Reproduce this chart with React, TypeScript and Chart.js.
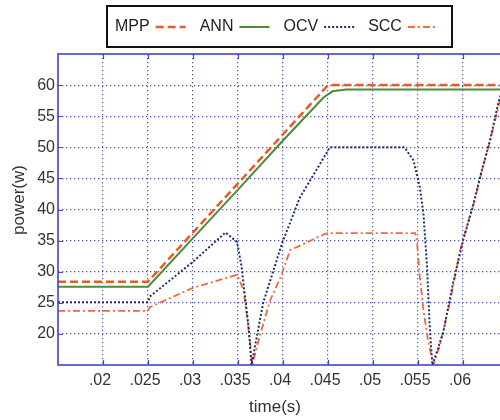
import React, { useEffect, useRef } from 'react';
import { Chart, registerables } from 'chart.js';

Chart.register(...registerables);

// ---- data (time in s, power in W) ----
const timeMPP = [0.015, 0.025, 0.045, 0.065];
const powerMPP = [28.4, 28.4, 60, 60];

const timeANN = [0.015, 0.025, 0.03, 0.035, 0.04, 0.0445, 0.0455, 0.047, 0.065];
const powerANN = [27.6, 27.6, 35.4, 43.2, 51.1, 58.0, 59.0, 59.3, 59.3];

const timeOCV = [
  0.015, 0.025, 0.0252, 0.03, 0.0336, 0.0349, 0.0354, 0.0362, 0.0365, 0.0378,
  0.0399, 0.0419, 0.0439, 0.0452, 0.0535, 0.0545, 0.0552, 0.0556, 0.056, 0.0563,
  0.0566, 0.0578, 0.0589, 0.06, 0.0611, 0.0619, 0.063, 0.0639, 0.0645, 0.065,
];
const powerOCV = [
  25.1, 25.1, 26.0, 31.6, 36.3, 34.8, 30.8, 20.7, 15, 25,
  34.6, 42, 46.8, 50, 50, 47.9, 43.6, 39.4, 31, 21.2,
  15, 20.2, 28.2, 35, 40.5, 45.2, 51.1, 57, 60, 60,
];

const timeSCC = [
  0.015, 0.025, 0.0252, 0.03, 0.0349, 0.0356, 0.0361, 0.0366, 0.0374, 0.0386,
  0.0397, 0.0408, 0.0421, 0.0439, 0.0449, 0.0547, 0.0549, 0.0552, 0.0556, 0.0561,
  0.0567, 0.0574, 0.0586, 0.0597, 0.0604, 0.0613, 0.0621, 0.063, 0.0641, 0.0645, 0.065,
];
const powerSCC = [
  23.7, 23.7, 24.3, 27.4, 29.5, 27.1, 21.8, 15, 19.6, 25.5,
  29, 33.5, 34.3, 35.6, 36.2, 36.2, 34.6, 29.2, 23.9, 19.1,
  15, 18, 25.5, 33.5, 37.2, 41.5, 46.3, 51, 57.5, 60, 60,
];

const xTicks = [0.02, 0.025, 0.03, 0.035, 0.04, 0.045, 0.05, 0.055, 0.06];
const xTickLabels = ['.02', '.025', '.03', '.035', '.04', '.045', '.05', '.055', '.06'];
const yTicks = [20, 25, 30, 35, 40, 45, 50, 55, 60];

const seriesNames = ['MPP', 'ANN', 'OCV', 'SCC'];

const FONT = '"Liberation Sans", Arial, sans-serif';
const FRAME = '#4444cc';
const GRID = '#4a58b0';

const pairs = (xs: number[], ys: number[]) => xs.map((x, i) => ({ x, y: ys[i] }));

const framePlugin = {
  id: 'framePlugin',
  afterDraw(chart: any) {
    const { ctx, chartArea: a, scales } = chart;
    ctx.save();
    // inward tick marks
    ctx.strokeStyle = FRAME;
    ctx.lineWidth = 1.2;
    ctx.setLineDash([]);
    ctx.beginPath();
    xTicks.forEach((v) => {
      const px = Math.round(scales.x.getPixelForValue(v)) + 0.5;
      ctx.moveTo(px, a.bottom);
      ctx.lineTo(px, a.bottom - 5);
      ctx.moveTo(px, a.top);
      ctx.lineTo(px, a.top + 5);
    });
    yTicks.forEach((v) => {
      const py = Math.round(scales.y.getPixelForValue(v)) + 0.5;
      ctx.moveTo(a.left, py);
      ctx.lineTo(a.left + 5, py);
      ctx.moveTo(a.right, py);
      ctx.lineTo(a.right - 5, py);
    });
    ctx.stroke();
    // frame
    ctx.lineWidth = 1.6;
    ctx.strokeRect(a.left, a.top, a.right - a.left, a.bottom - a.top);

    // axis titles
    ctx.fillStyle = '#333';
    ctx.font = `17px ${FONT}`;
    ctx.textAlign = 'center';
    ctx.textBaseline = 'middle';
    ctx.fillText('time(s)', 275, 407);
    ctx.save();
    ctx.translate(19, 200);
    ctx.rotate(-Math.PI / 2);
    ctx.fillText('power(w)', 0, 0);
    ctx.restore();

    // legend box
    ctx.strokeStyle = '#111';
    ctx.lineWidth = 2;
    ctx.strokeRect(107, 6, 345, 41);
    ctx.font = `16px ${FONT}`;
    ctx.textAlign = 'left';
    ctx.fillStyle = '#222';
    let x = 115;
    const y = 27;
    chart.data.datasets.forEach((ds: any) => {
      ctx.fillText(ds.label, x, y);
      x += ctx.measureText(ds.label).width + 6;
      ctx.beginPath();
      ctx.strokeStyle = ds.borderColor;
      ctx.lineWidth = ds.borderWidth;
      ctx.setLineDash(ds.borderDash || []);
      ctx.moveTo(x, y);
      ctx.lineTo(x + 30, y);
      ctx.stroke();
      ctx.setLineDash([]);
      x += 30 + 14;
    });
    ctx.restore();
  },
};

export default function App() {
  const ref = useRef<HTMLCanvasElement>(null);
  useEffect(() => {
    const chart = new Chart(ref.current as HTMLCanvasElement, {
      type: 'line',
      data: {
        datasets: [
          {
            label: seriesNames[0],
            data: pairs(timeMPP, powerMPP),
            borderColor: '#ec5a24',
            borderWidth: 2.5,
            borderDash: [8, 4],
            pointRadius: 0,
            tension: 0,
          },
          {
            label: seriesNames[1],
            data: pairs(timeANN, powerANN),
            borderColor: '#4b8b3b',
            borderWidth: 2,
            pointRadius: 0,
            tension: 0,
          },
          {
            label: seriesNames[2],
            data: pairs(timeOCV, powerOCV),
            borderColor: '#1f2f6e',
            borderWidth: 2,
            borderDash: [2, 2],
            pointRadius: 0,
            tension: 0,
          },
          {
            label: seriesNames[3],
            data: pairs(timeSCC, powerSCC),
            borderColor: '#ee6a3a',
            borderWidth: 1.8,
            borderDash: [7, 3, 2, 3],
            pointRadius: 0,
            tension: 0,
          },
        ],
      } as any,
      options: {
        responsive: false,
        animation: false,
        devicePixelRatio: 1,
        layout: { padding: { top: 54, right: 12, left: 0, bottom: 0 } },
        plugins: { legend: { display: false }, tooltip: { enabled: false } },
        scales: {
          x: {
            type: 'linear',
            min: 0.015,
            max: 0.065,
            afterBuildTicks: (s: any) => {
              s.ticks = xTicks.map((v) => ({ value: v }));
            },
            afterFit: (s: any) => {
              s.height = 55;
            },
            ticks: {
              padding: 6,
              labelOffset: -3,
              maxRotation: 0,
              autoSkip: false,
              color: '#333',
              font: { family: FONT, size: 16 },
              callback: (v: any) => {
                const i = xTicks.findIndex((t) => Math.abs(t - Number(v)) < 1e-6);
                return i >= 0 ? xTickLabels[i] : '';
              },
            },
            grid: { color: GRID, lineWidth: 1.2, drawTicks: false },
            border: { display: false, dash: [1.3, 2.7] },
          },
          y: {
            type: 'linear',
            min: 15,
            max: 65,
            afterBuildTicks: (s: any) => {
              s.ticks = yTicks.map((v) => ({ value: v }));
            },
            afterFit: (s: any) => {
              s.width = 58;
            },
            ticks: {
              padding: 3,
              color: '#333',
              font: { family: FONT, size: 16 },
              callback: (v: any) => String(v),
            },
            grid: { color: GRID, lineWidth: 1.2, drawTicks: false },
            border: { display: false, dash: [1.3, 2.7] },
          },
        },
      } as any,
      plugins: [framePlugin],
    });
    return () => chart.destroy();
  }, []);
  return (
    <div
      style={{
        position: 'fixed',
        left: 0,
        top: 0,
        width: 500,
        height: 420,
        overflow: 'hidden',
        background: '#fff',
      }}
    >
      <canvas ref={ref} width={520} height={420} style={{ display: 'block', width: 520, height: 420 }} />
    </div>
  );
}
